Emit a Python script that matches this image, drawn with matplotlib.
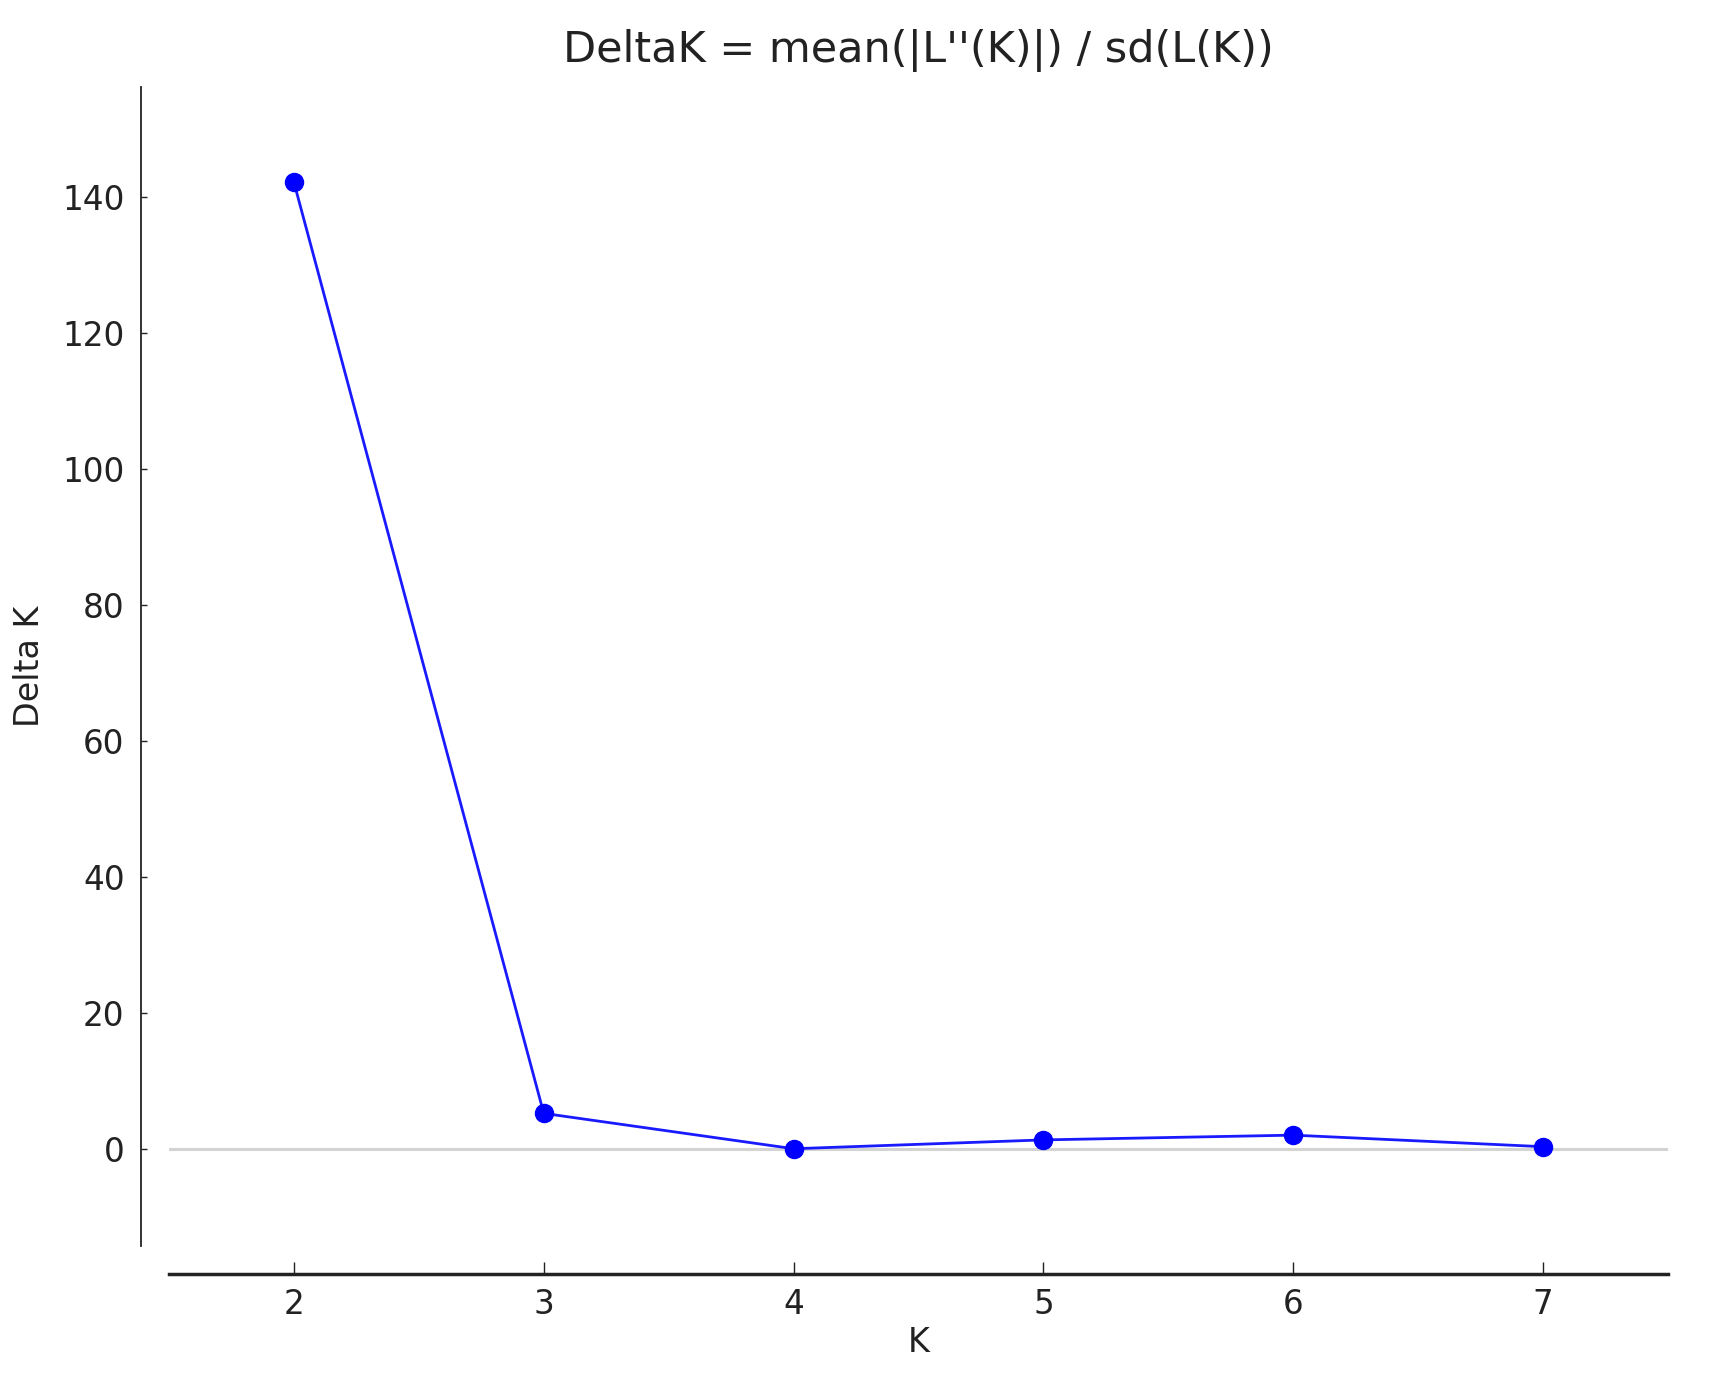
import matplotlib
matplotlib.use("Agg")
import matplotlib.pyplot as plt

# Delta K values per K (Evanno method)
k_values = [2, 3, 4, 5, 6, 7]
delta_k = [142.2, 5.3, 0.1, 1.4, 2.1, 0.4]

fig = plt.figure(figsize=(17.09, 13.99), dpi=100)
ax = fig.add_axes([169 / 1709, 1 - 1246 / 1399, (1668 - 169) / 1709, (1246 - 87) / 1399])

# zero line
ax.axhline(0, color="#d3d3d3", linewidth=2.2, zorder=1)

ax.plot(k_values, delta_k, color="#1a1aff", linewidth=2.0, marker="o",
        markersize=13, markerfacecolor="blue", markeredgecolor="blue", zorder=3)

ax.set_xlim(1.5, 7.5)
ax.set_ylim(-14.2, 156.2)
ax.set_xticks(k_values)
ax.set_yticks([0, 20, 40, 60, 80, 100, 120, 140])

ax.spines["top"].set_visible(False)
ax.spines["right"].set_visible(False)
ax.spines["left"].set_position(("outward", 20))
ax.spines["bottom"].set_position(("outward", 20))
ax.spines["left"].set_linewidth(1.3)
ax.spines["bottom"].set_linewidth(2.5)
ax.spines["left"].set_color("#222222")
ax.spines["bottom"].set_color("#222222")

ax.tick_params(axis="x", direction="in", length=9, width=1, pad=10,
               labelsize=23.5, colors="#222222")
ax.tick_params(axis="y", direction="in", length=4, width=1, pad=12,
               labelsize=23.5, colors="#222222")

ax.set_xlabel("K", fontsize=24, color="#222222", labelpad=4)
ax.set_ylabel("Delta K", fontsize=24, color="#222222", labelpad=12)
ax.set_title("DeltaK = mean(|L''(K)|) / sd(L(K))", fontsize=31,
             color="#222222", pad=18)

fig.savefig("out.png", dpi=100)
